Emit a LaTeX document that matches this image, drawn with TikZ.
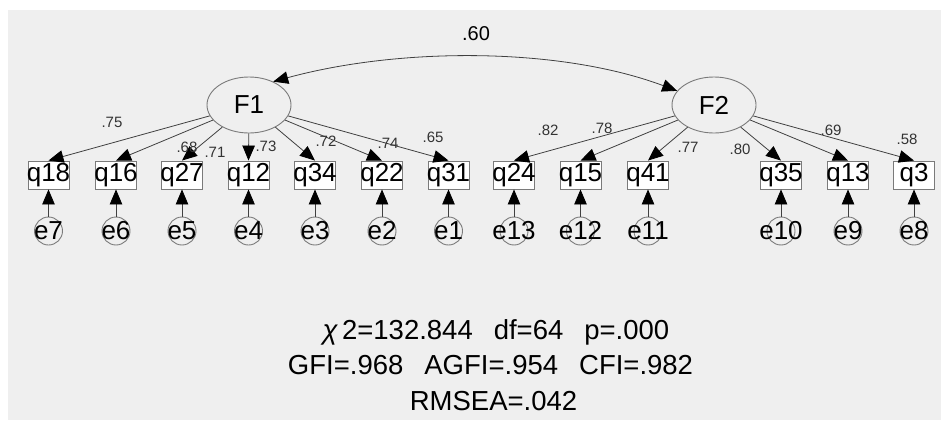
\documentclass[tikz,border=0pt]{standalone}
\usepackage{fontspec}
\setmainfont{Liberation Sans}
\usetikzlibrary{arrows.meta,shapes.geometric}
\definecolor{bggray}{HTML}{EFEFEF}
\definecolor{linegray}{HTML}{404040}
\definecolor{boxgray}{HTML}{7A7A7A}
\definecolor{labgray}{HTML}{333333}
\tikzset{
  tip/.style={-{Triangle[length=15pt,width=12.5pt,color=black]}},
  obs/.style={draw=boxgray, fill=white, line width=0.9pt, minimum width=41pt, minimum height=28pt, inner sep=0pt, font=\fontsize{26}{26}\selectfont},
  lat/.style={ellipse, draw=boxgray, line width=0.9pt, minimum width=84pt, minimum height=56pt, inner sep=0pt, font=\fontsize{26}{26}\selectfont},
  err/.style={circle, draw=boxgray, line width=0.9pt, minimum size=28pt, inner sep=0pt, font=\fontsize{26}{26}\selectfont},
  load/.style={draw=linegray, line width=0.8pt, tip},
  coef/.style={font=\fontsize{15}{15}\selectfont, text=labgray, inner sep=0pt},
  fit/.style={font=\fontsize{27.5}{27.5}\selectfont, anchor=base, inner sep=0pt}
}
\newcommand\obsbox[3]{\node[obs] (#1) at (#2,175) {\makebox[0pt]{#3}};}
\newcommand\errcirc[3]{\node[err] (#1) at (#2,231) {\makebox[0pt]{#3}};}
\begin{document}
\begin{tikzpicture}[x=1pt,y=-1pt]
\useasboundingbox (0,0) rectangle (941,420);
\fill[white] (0,0) rectangle (941,420);
\fill[bggray] (8,10) rectangle (941,420);

% latent factors
\node[lat] (F1) at (249,105) {F1};
\node[lat] (F2) at (714,105) {F2};

% observed variables
\obsbox{q18}{48.5}{q18}
\obsbox{q16}{116}{q16}
\obsbox{q27}{182}{q27}
\obsbox{q12}{248.5}{q12}
\obsbox{q34}{315}{q34}
\obsbox{q22}{382}{q22}
\obsbox{q31}{448.5}{q31}
\obsbox{q24}{514}{q24}
\obsbox{q15}{580.5}{q15}
\obsbox{q41}{648}{q41}
\obsbox{q35}{781}{q35}
\obsbox{q13}{848}{q13}
\obsbox{q3}{914}{q3}

% errors
\errcirc{e7}{48.5}{e7}
\errcirc{e6}{116}{e6}
\errcirc{e5}{182}{e5}
\errcirc{e4}{248.5}{e4}
\errcirc{e3}{315}{e3}
\errcirc{e2}{382}{e2}
\errcirc{e1}{448.5}{e1}
\errcirc{e13}{514}{e13}
\errcirc{e12}{580.5}{e12}
\errcirc{e11}{648}{e11}
\errcirc{e10}{781}{e10}
\errcirc{e9}{848}{e9}
\errcirc{e8}{914}{e8}

% covariance
\draw[draw=linegray, line width=0.8pt, {Triangle[length=15pt,width=12.5pt,color=black]}-{Triangle[length=15pt,width=12.5pt,color=black]}]
  (F1.44) .. controls (400,47) and (560,47) .. (F2.159);
\node[font=\fontsize{20}{20}\selectfont, inner sep=0pt] (r60) at (476,34) {.60};

% loadings
\foreach \q in {q18,q16,q27,q12,q34,q22,q31} {\draw[load] (F1) -- (\q.north);}
\foreach \q in {q24,q15,q41,q35,q13,q3} {\draw[load] (F2) -- (\q.north);}

% error paths
\foreach \e/\q in {e7/q18,e6/q16,e5/q27,e4/q12,e3/q34,e2/q22,e1/q31,e13/q24,e12/q15,e11/q41,e10/q35,e9/q13,e8/q3}
  {\draw[load] (\e.north) -- (\q.south);}

% coefficients
\node[coef] (c1) at (112,122) {.75};
\node[coef] (c2) at (187,147) {.68};
\node[coef] (c3) at (215,152) {.71};
\node[coef] (c4) at (266,146) {.73};
\node[coef] (c5) at (326,141) {.72};
\node[coef] (c6) at (388,143) {.74};
\node[coef] (c7) at (433,137) {.65};
\node[coef] (c8) at (548,130) {.82};
\node[coef] (c9) at (602,128) {.78};
\node[coef] (c10) at (688,147) {.77};
\node[coef] (c11) at (740,149) {.80};
\node[coef] (c12) at (831,130) {.69};
\node[coef] (c13) at (907,139) {.58};

% fit indices
\node[fit] (fit1) at (496,339) {\textit{χ}\hskip 4pt2=132.844\hskip 21pt df=64\hskip 21pt p=.000};
\node[fit] (fit2) at (490.5,374) {GFI=.968\hskip 21pt AGFI=.954\hskip 21pt CFI=.982};
\node[fit] (fit3) at (493.5,410) {RMSEA=.042};
\end{tikzpicture}
\end{document}
